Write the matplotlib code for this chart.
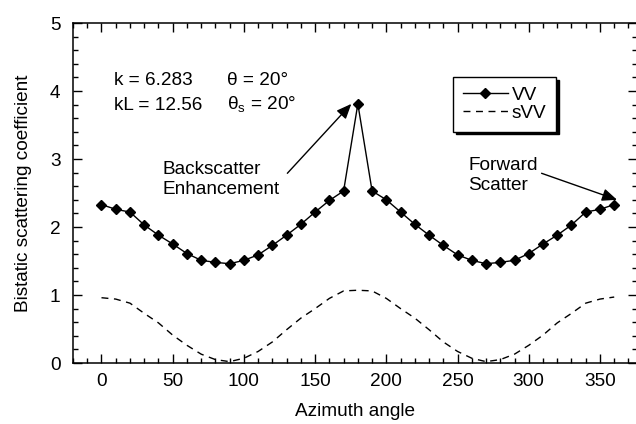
import matplotlib
matplotlib.use("Agg")
import matplotlib.pyplot as plt
from matplotlib.ticker import MultipleLocator

plt.rcParams['font.family'] = ['Liberation Sans', 'DejaVu Sans']

azimuth = list(range(0, 361, 10))
vv = [2.33, 2.26, 2.22, 2.03, 1.88, 1.75, 1.61, 1.51, 1.48, 1.46,
      1.51, 1.59, 1.73, 1.88, 2.04, 2.22, 2.39, 2.53, 3.81, 2.53,
      2.40, 2.22, 2.04, 1.88, 1.73, 1.59, 1.51, 1.46, 1.48, 1.51,
      1.61, 1.75, 1.88, 2.03, 2.22, 2.26, 2.33]
svv = [0.96, 0.94, 0.88, 0.73, 0.59, 0.41, 0.26, 0.13, 0.05, 0.02,
       0.07, 0.17, 0.31, 0.49, 0.66, 0.80, 0.95, 1.06, 1.07, 1.06,
       0.95, 0.80, 0.66, 0.49, 0.31, 0.17, 0.07, 0.02, 0.05, 0.13,
       0.26, 0.41, 0.59, 0.73, 0.88, 0.94, 0.97]

FS = 13.7
W, H = 636, 424
fig = plt.figure(figsize=(W / 100, H / 100), dpi=100)
ax = fig.add_axes([73 / W, 1 - 363 / H, (637 - 73) / W, (363 - 23) / H])

ax.plot(azimuth, vv, color='black', lw=1.0, marker='D', markersize=5.2,
        label='VV')
ax.plot(azimuth, svv, color='black', lw=1.0, ls=(0, (5, 4)), label='sVV')

ax.set_xlim(-20, 376)
ax.set_ylim(0, 5)
ax.xaxis.set_major_locator(MultipleLocator(50))
ax.xaxis.set_minor_locator(MultipleLocator(10))
ax.yaxis.set_major_locator(MultipleLocator(1))
ax.yaxis.set_minor_locator(MultipleLocator(0.2))
ax.tick_params(which='both', direction='in', top=True, right=True,
               width=1.0, labelsize=FS)
ax.tick_params(which='major', length=6.3)
ax.tick_params(which='minor', length=3.5)
ax.tick_params(axis='y', pad=9)
ax.tick_params(axis='x', pad=7)
for s in ax.spines.values():
    s.set_linewidth(1.1)

ax.set_xlabel('Azimuth angle', fontsize=FS, labelpad=9.5)
ax.set_ylabel('Bistatic scattering coefficient', fontsize=FS, labelpad=13)

ax.text(9.1, 4.15, 'k = 6.283', fontsize=FS, va='center', ha='left')
ax.text(88.4, 4.15, '\u03b8 = 20\u00b0', fontsize=FS, va='center', ha='left')
ax.text(9.1, 3.79, 'kL = 12.56', fontsize=FS, va='center', ha='left')
ax.text(88.4, 3.79, '\u03b8$_\\mathregular{s}$ = 20\u00b0', fontsize=FS,
        va='center', ha='left')

arrowprops = dict(arrowstyle='-|>,head_length=0.9,head_width=0.38',
                  color='black', lw=1.0, shrinkA=0, shrinkB=0)
ax.annotate('', xy=(175.4, 3.81), xytext=(130.5, 2.79), arrowprops=arrowprops)
ax.text(42.8, 2.70, 'Backscatter\nEnhancement', fontsize=FS, va='center',
        ha='left', linespacing=1.2)
ax.annotate('', xy=(362, 2.40), xytext=(309, 2.79), arrowprops=arrowprops)
ax.text(257.4, 2.76, 'Forward\nScatter', fontsize=FS, va='center',
        ha='left', linespacing=1.2)

leg = ax.legend(loc='upper left', bbox_to_anchor=(453 / W, 1 - 77 / H),
                bbox_transform=fig.transFigure, borderaxespad=0,
                fontsize=FS, frameon=True, fancybox=False,
                shadow={'color': 'black', 'alpha': 1.0},
                edgecolor='black', framealpha=1, handlelength=2.4,
                handletextpad=0.2, labelspacing=0.05, borderpad=0.5)
leg.get_frame().set_linewidth(1.0)

fig.savefig('out.png', dpi=100)
